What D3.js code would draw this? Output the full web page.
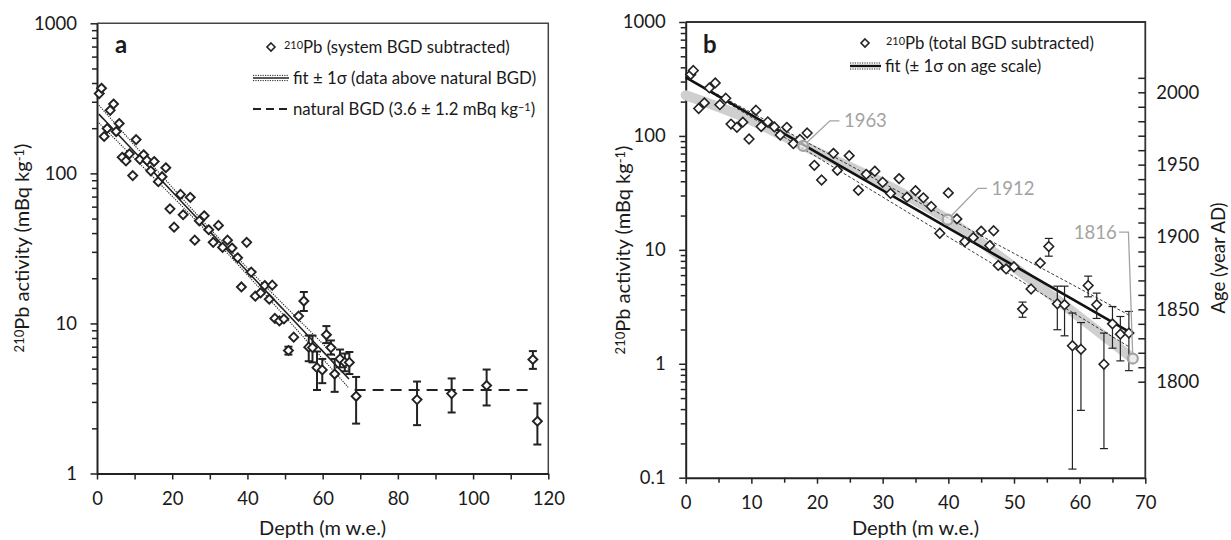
<!DOCTYPE html>
<html>
<head>
<meta charset="utf-8">
<script src="https://cdn.jsdelivr.net/npm/d3@7"></script>
<style>
body { margin: 0; background: #fff; }
text { font-family: Lato, "Open Sans", sans-serif; fill: #1a1a1a; }
</style>
</head>
<body>
<svg id="chart" width="1231" height="540"></svg>
<script>
// ---------- Panel a data (210Pb, system BGD subtracted) ----------
const depthA = [0.6, 1.2, 1.9, 2.7, 3.5, 4.4, 5.1, 5.9, 6.7, 7.7, 8.6, 9.5, 10.4, 11.4, 12.4, 13.3, 14.3, 15.2,
  16.3, 17.3, 18.3, 19.4, 20.5, 22.2, 22.9, 24.8, 26.0, 27.2, 28.5, 29.7, 30.9, 32.3, 33.4, 34.7, 35.9, 37.4,
  38.4, 39.8, 41.0, 42.1, 43.5, 44.6, 45.8, 46.6, 47.3, 48.5, 49.7, 50.9, 52.3, 53.6, 55.0, 56.3, 57.3, 58.5,
  59.9, 61.0, 62.2, 63.2, 64.6, 65.9, 67.1, 68.9, 85.1, 94.3, 103.6, 115.9, 117.1];
const activityA = [340, 369, 176, 199, 263, 290, 190, 215, 128, 121, 135, 96.6, 168, 124, 133, 122, 104, 120,
  88, 95, 109, 58, 43.8, 72.4, 53, 69.2, 35.9, 48.3, 52.2, 42.1, 34.7, 45, 32.1, 35.9, 31.8, 27.4,
  17.5, 34.7, 22, 15.2, 16, 17.9, 14.5, 18, 10.8, 10.4, 10.7, 6.6, 8.1, 11.2, 14.1, 6.95, 6.9, 5.07,
  4.9, 8.4, 6.9, 4.6, 5.8, 5.5, 5.5, 3.27, 3.11, 3.41, 3.86, 5.75, 2.23];
// error bar ends (null = smaller than the marker)
const errLowA = Array(47).fill(null).concat([6.2, null, null, 12.1, 5.6, 5.5, 3.6, 4.0, 7.4, 6.2, 3.5, 5.1, 4.8, 4.6,
  2.15, 2.1, 2.55, 2.84, 4.98, 1.56]);
const errHighA = Array(47).fill(null).concat([7.0, null, null, 16.2, 8.3, 8.3, 6.5, 5.8, 9.6, 7.7, 5.8, 6.7, 6.3, 6.45,
  4.4, 4.1, 4.3, 4.93, 6.54, 2.93]);

// exponential fit (log10 activity = log10(fitA0) + fitSlopeA * depth) and its 1 sigma band
const fitA0 = 256;
const fitSlopeA = -0.02655;
const fitDepthA = [0.5, 67.3];
const fitSigmaA = { s0: 0.02, slope: 0.0017, mid: 33 };
const bgdLevel = 3.6;
const bgdDepth = [68.5, 115.6];

// ---------- Panel b data (210Pb, total BGD subtracted) ----------
const depthB = [0.76, 1.16, 1.98, 2.84, 3.6, 4.5, 5.2, 6.1, 6.9, 7.8, 8.7, 9.65, 10.7, 11.5, 12.5, 13.5, 14.4, 15.4,
  16.4, 17.4, 18.5, 19.6, 20.7, 22.5, 23.1, 24.9, 26.3, 27.5, 28.8, 30.0, 31.2, 32.5, 33.7, 35.0, 36.2, 37.4,
  38.7, 40.0, 41.3, 42.5, 43.8, 45.0, 46.3, 46.9, 47.6, 48.8, 50.0, 51.3, 52.6, 54.0, 55.3, 56.6, 57.7, 58.9,
  60.2, 61.3, 62.6, 63.7, 65.0, 66.2, 67.5];
const activityB = [346, 375, 174, 195, 264, 292, 188, 214, 127, 119, 132, 94, 168, 121, 133, 120, 102, 119,
  85.5, 93, 106, 55.2, 41, 70.3, 49.9, 67.1, 33.3, 46, 49, 39.2, 31.3, 42.2, 29, 33.1, 28.6, 24,
  14, 31.6, 18.7, 11.8, 12.8, 14.6, 10.9, 14.7, 7.3, 6.8, 7.1, 3.02, 4.53, 7.66, 10.7, 3.36, 3.3, 1.44,
  1.34, 4.86, 3.3, 0.99, 2.24, 1.82, 1.86];
const errLowB = Array(47).fill(null).concat([2.56, null, null, 8.8, 1.99, 1.76, 0.119, 0.39, 3.87, 2.5, 0.18, 1.37, 1.06, 0.87]);
const errHighB = Array(47).fill(null).concat([3.48, null, null, 12.6, 4.8, 4.8, 2.79, 2.3, 5.88, 4.17, 1.86, 3.18, 2.6, 2.88]);

const fitB0 = 327;
const fitSlopeB = -0.03307;
const fitDepthB = [0, 67.5];
const sigmaUpB = 0.00216;   // decades per m, grows with depth (age)
const sigmaLowB = 0.00196;

// age model (gray band)
const ageBandDepth = [0, 8.3, 17.9, 28, 39.9, 55, 68.1];
const ageBandYear = [1998, 1984, 1963, 1942, 1912, 1862, 1816];
const markerYears = [1963, 1912, 1816];
const markerDepths = [17.9, 39.9, 68.1];

const svg = d3.select("#chart");
const FONT = "Lato, 'Open Sans', sans-serif";
const TICK_FS = 18.5, TITLE_FS = 20, LEG_FS = 16.8;

const diamond = r => `M0,${-r}L${r},0L0,${r}L${-r},0Z`;

function styleAxis(g, size) {
  g.attr("font-family", FONT).attr("font-size", size);
  g.selectAll("text").style("fill", "#1a1a1a");
  g.selectAll("line").attr("stroke", "#222").attr("stroke-width", 1.5);
  g.select(".domain").attr("stroke", "#222").attr("stroke-width", 2);
}

function minorLog(lo, hi) {
  const out = [];
  for (let e = lo; e < hi; e++) for (let m = 2; m <= 9; m++) out.push(m * Math.pow(10, e));
  return out;
}

// superscript helper for titles/legends
function richText(sel, parts, size) {
  parts.forEach(p => {
    const t = sel.append("tspan").text(p.t);
    if (p.sup) t.attr("font-size", size * 0.65).attr("baseline-shift", "38%");
  });
}

/////////////////////////////////////////////////////////
/////////////////////// Panel a /////////////////////////
/////////////////////////////////////////////////////////
const xA = d3.scaleLinear().domain([0, 120]).range([97, 548.3]);
const yA = d3.scaleLog().domain([1, 1000]).range([473.5, 23.3]);

const gA = svg.append("g");

// frame (top, right)
gA.append("path")
  .attr("d", `M${xA(0)},${yA(1000)}H${xA(120)}V${yA(1)}`)
  .attr("fill", "none").attr("stroke", "#444").attr("stroke-width", 1.5);

gA.append("g").attr("transform", `translate(${xA(0)},0)`)
  .call(d3.axisLeft(yA).tickValues(minorLog(0, 3)).tickFormat("").tickSize(5).tickSizeOuter(0))
  .call(g => { styleAxis(g, TICK_FS); g.select(".domain").remove(); });
gA.append("g").attr("transform", `translate(${xA(0)},0)`)
  .call(d3.axisLeft(yA).tickValues([1, 10, 100, 1000]).tickFormat(d3.format("d")).tickSize(6.5).tickSizeOuter(0).tickPadding(13.5))
  .call(g => styleAxis(g, TICK_FS));
gA.append("g").attr("transform", `translate(0,${yA(1)})`)
  .call(d3.axisBottom(xA).tickValues(d3.range(10, 120, 20)).tickFormat("").tickSize(6).tickSizeOuter(0))
  .call(g => { styleAxis(g, TICK_FS); g.select(".domain").remove(); });
gA.append("g").attr("transform", `translate(0,${yA(1)})`)
  .call(d3.axisBottom(xA).tickValues(d3.range(0, 121, 20)).tickSize(6).tickSizeOuter(0).tickPadding(12))
  .call(g => styleAxis(g, TICK_FS));

// fit and 1 sigma band
const lineA = d3.line().x(d => xA(d[0])).y(d => yA(d[1]));
const fitPtsA = (off) => d3.range(fitDepthA[0], fitDepthA[1] + 0.01, 0.5).map(d => {
  const s = Math.sqrt(fitSigmaA.s0 ** 2 + (fitSigmaA.slope * (d - fitSigmaA.mid)) ** 2);
  return [d, Math.pow(10, Math.log10(fitA0) + fitSlopeA * d + off * s)];
});
gA.append("path").attr("d", lineA(fitPtsA(1))).attr("fill", "none")
  .attr("stroke", "#222").attr("stroke-width", 1.1).attr("stroke-dasharray", "1.2,1.2");
gA.append("path").attr("d", lineA(fitPtsA(-1))).attr("fill", "none")
  .attr("stroke", "#222").attr("stroke-width", 1.1).attr("stroke-dasharray", "1.2,1.2");
gA.append("path").attr("d", lineA(fitPtsA(0))).attr("fill", "none")
  .attr("stroke", "#222").attr("stroke-width", 1.6);

// natural background
gA.append("line")
  .attr("x1", xA(bgdDepth[0])).attr("x2", xA(bgdDepth[1]))
  .attr("y1", yA(bgdLevel)).attr("y2", yA(bgdLevel))
  .attr("stroke", "#222").attr("stroke-width", 2.2).attr("stroke-dasharray", "11,7");

// error bars
const dataA = depthA.map((d, i) => ({ d, v: activityA[i], lo: errLowA[i], hi: errHighA[i] }));
const ebA = gA.append("g").attr("stroke", "#222").attr("stroke-width", 2);
dataA.filter(p => p.lo != null).forEach(p => {
  const x = xA(p.d);
  ebA.append("line").attr("x1", x).attr("x2", x).attr("y1", yA(p.lo)).attr("y2", yA(p.hi));
  ebA.append("line").attr("x1", x - 4).attr("x2", x + 4).attr("y1", yA(p.lo)).attr("y2", yA(p.lo));
  ebA.append("line").attr("x1", x - 4).attr("x2", x + 4).attr("y1", yA(p.hi)).attr("y2", yA(p.hi));
});

gA.selectAll(".ptA").data(dataA).enter().append("path")
  .attr("class", "ptA")
  .attr("d", diamond(4.5))
  .attr("transform", p => `translate(${xA(p.d)},${yA(p.v)})`)
  .attr("fill", "#fff").attr("stroke", "#222").attr("stroke-width", 1.9);

// panel letter
gA.append("text").attr("x", 115).attr("y", 53).attr("font-size", 24).attr("font-weight", "bold").text("a");

// legend a
const legA = gA.append("g");
legA.append("path").attr("d", diamond(4)).attr("transform", "translate(271,47)")
  .attr("fill", "#fff").attr("stroke", "#222").attr("stroke-width", 1.6);
richText(legA.append("text").attr("x", 284).attr("y", 47).attr("dy", "0.35em").attr("font-size", LEG_FS),
  [{ t: "210", sup: true }, { t: "Pb (system BGD subtracted)" }], LEG_FS);
[-2.6, 2.6].forEach(o => legA.append("line").attr("x1", 253).attr("x2", 289).attr("y1", 78 + o).attr("y2", 78 + o)
  .attr("stroke", "#222").attr("stroke-width", 1).attr("stroke-dasharray", "1.2,1.2"));
legA.append("line").attr("x1", 253).attr("x2", 289).attr("y1", 78).attr("y2", 78)
  .attr("stroke", "#222").attr("stroke-width", 1.6);
legA.append("text").attr("x", 293).attr("y", 78).attr("dy", "0.35em").attr("font-size", LEG_FS)
  .text("fit ± 1σ (data above natural BGD)");
legA.append("line").attr("x1", 253).attr("x2", 289).attr("y1", 109).attr("y2", 109)
  .attr("stroke", "#222").attr("stroke-width", 2.2).attr("stroke-dasharray", "8,5");
richText(legA.append("text").attr("x", 293).attr("y", 109).attr("dy", "0.35em").attr("font-size", LEG_FS),
  [{ t: "natural BGD (3.6 ± 1.2 mBq kg" }, { t: "−1", sup: true }, { t: ")" }], LEG_FS);

// axis titles a
richText(gA.append("text").attr("transform", "translate(29,248) rotate(-90)").attr("text-anchor", "middle").attr("font-size", TITLE_FS),
  [{ t: "210", sup: true }, { t: "Pb activity (mBq kg" }, { t: "-1", sup: true }, { t: ")" }], TITLE_FS);
gA.append("text").attr("x", (xA(0) + xA(120)) / 2).attr("y", 528).attr("dy", "0.35em")
  .attr("text-anchor", "middle").attr("font-size", TITLE_FS).text("Depth (m w.e.)");

/////////////////////////////////////////////////////////
/////////////////////// Panel b /////////////////////////
/////////////////////////////////////////////////////////
const xB = d3.scaleLinear().domain([0, 70]).range([685.7, 1145.3]);
const yB = d3.scaleLog().domain([0.1, 1000]).range([477.7, 22]);
const ageB = d3.scaleLinear().domain([1800, 2000]).range([381.7, 92.3]);

const gB = svg.append("g");

gB.append("path")
  .attr("d", `M${xB(0)},${yB(1000)}H${xB(70)}V${yB(0.1)}`)
  .attr("fill", "none").attr("stroke", "#333").attr("stroke-width", 1.8);

gB.append("g").attr("transform", `translate(${xB(0)},0)`)
  .call(d3.axisLeft(yB).tickValues(minorLog(-1, 3)).tickFormat("").tickSize(5).tickSizeOuter(0))
  .call(g => { styleAxis(g, TICK_FS); g.select(".domain").remove(); });
gB.append("g").attr("transform", `translate(${xB(0)},0)`)
  .call(d3.axisLeft(yB).tickValues([0.1, 1, 10, 100, 1000]).tickFormat(d => d < 1 ? "0.1" : d3.format("d")(d))
    .tickSize(6.5).tickSizeOuter(0).tickPadding(13.5))
  .call(g => styleAxis(g, TICK_FS));
gB.append("g").attr("transform", `translate(0,${yB(0.1)})`)
  .call(d3.axisBottom(xB).tickValues(d3.range(5, 70, 10)).tickFormat("").tickSize(5).tickSizeOuter(0))
  .call(g => { styleAxis(g, TICK_FS); g.select(".domain").remove(); });
gB.append("g").attr("transform", `translate(0,${yB(0.1)})`)
  .call(d3.axisBottom(xB).tickValues(d3.range(0, 71, 10)).tickSize(6).tickSizeOuter(0).tickPadding(12))
  .call(g => styleAxis(g, TICK_FS));
// age axis, ticks pointing inward
gB.append("g").attr("transform", `translate(${xB(70)},0)`)
  .call(d3.axisRight(ageB).tickValues(d3.range(1800, 2011, 10)).tickFormat(d => d % 50 === 0 ? d : "")
    .tickSizeInner(-7).tickSizeOuter(0).tickPadding(11))
  .call(g => { styleAxis(g, TICK_FS); g.select(".domain").remove(); });

// gray age-model band
const bandLine = d3.line().curve(d3.curveMonotoneX).x(d => xB(d[0])).y(d => ageB(d[1]));
gB.append("path").attr("d", bandLine(ageBandDepth.map((d, i) => [d, ageBandYear[i]])))
  .attr("fill", "none").attr("stroke", "#cfcfcf").attr("stroke-width", 10).attr("stroke-linecap", "round");

// fit with +/- 1 sigma on age scale
const lineB = d3.line().x(d => xB(d[0])).y(d => yB(d[1]));
const fitValB = (d, off) => Math.pow(10, Math.log10(fitB0) + fitSlopeB * d + off * d);
gB.append("path").attr("d", lineB(fitDepthB.map(d => [d, fitValB(d, sigmaUpB)])))
  .attr("fill", "none").attr("stroke", "#222").attr("stroke-width", 0.9).attr("stroke-dasharray", "3,2");
gB.append("path").attr("d", lineB(fitDepthB.map(d => [d, fitValB(d, -sigmaLowB)])))
  .attr("fill", "none").attr("stroke", "#222").attr("stroke-width", 0.9).attr("stroke-dasharray", "3,2");
gB.append("path").attr("d", lineB(fitDepthB.map(d => [d, fitValB(d, 0)])))
  .attr("fill", "none").attr("stroke", "#111").attr("stroke-width", 2.6);

// error bars b
const dataB = depthB.map((d, i) => ({ d, v: activityB[i], lo: errLowB[i], hi: errHighB[i] }));
const ebB = gB.append("g").attr("stroke", "#222").attr("stroke-width", 1.2);
dataB.filter(p => p.lo != null).forEach(p => {
  const x = xB(p.d);
  ebB.append("line").attr("x1", x).attr("x2", x).attr("y1", yB(p.lo)).attr("y2", yB(p.hi));
  ebB.append("line").attr("x1", x - 4).attr("x2", x + 4).attr("y1", yB(p.lo)).attr("y2", yB(p.lo));
  ebB.append("line").attr("x1", x - 4).attr("x2", x + 4).attr("y1", yB(p.hi)).attr("y2", yB(p.hi));
});

gB.selectAll(".ptB").data(dataB).enter().append("path")
  .attr("class", "ptB")
  .attr("d", diamond(4.8))
  .attr("transform", p => `translate(${xB(p.d)},${yB(p.v)})`)
  .attr("fill", "#fff").attr("stroke", "#222").attr("stroke-width", 1.6);

// year markers with leader lines
const GRAY = "#a3a3a3";
const leaders = [
  { dx: 26.7, dy: -25, h: 9.5, anchor: "start" },
  { dx: 30.3, dy: -31.3, h: 9, anchor: "start" },
  { dx: -4.4, dy: -126.5, h: -9.3, anchor: "end" }
];
markerYears.forEach((yr, i) => {
  const cx = xB(markerDepths[i]), cy = ageB(yr), L = leaders[i];
  const ex = cx + L.dx, ey = cy + L.dy;
  const ang = Math.atan2(L.dy, L.dx);
  gB.append("path")
    .attr("d", `M${cx + 5 * Math.cos(ang)},${cy + 5 * Math.sin(ang)}L${ex},${ey}h${L.h}`)
    .attr("fill", "none").attr("stroke", GRAY).attr("stroke-width", 1.3);
  gB.append("circle").attr("cx", cx).attr("cy", cy).attr("r", 5)
    .attr("fill", "#fff").attr("fill-opacity", 0.6).attr("stroke", GRAY).attr("stroke-width", 2.2);
  gB.append("text").attr("x", ex + L.h + (L.h > 0 ? 4.5 : -2.5)).attr("y", ey).attr("dy", "0.35em")
    .attr("text-anchor", L.anchor).attr("font-size", TICK_FS).style("fill", GRAY).text(yr);
});

gB.append("text").attr("x", 703).attr("y", 53).attr("font-size", 24).attr("font-weight", "bold").text("b");

// legend b
const legB = gB.append("g");
legB.append("path").attr("d", diamond(4)).attr("transform", "translate(865,43)")
  .attr("fill", "#fff").attr("stroke", "#222").attr("stroke-width", 1.6);
richText(legB.append("text").attr("x", 886).attr("y", 43).attr("dy", "0.35em").attr("font-size", LEG_FS),
  [{ t: "210", sup: true }, { t: "Pb (total BGD subtracted)" }], LEG_FS);
[-3, 3].forEach(o => legB.append("line").attr("x1", 850).attr("x2", 881).attr("y1", 66 + o).attr("y2", 66 + o)
  .attr("stroke", "#222").attr("stroke-width", 1).attr("stroke-dasharray", "1.2,1.2"));
legB.append("line").attr("x1", 850).attr("x2", 881).attr("y1", 66).attr("y2", 66)
  .attr("stroke", "#111").attr("stroke-width", 2.4);
legB.append("text").attr("x", 885).attr("y", 66).attr("dy", "0.35em").attr("font-size", LEG_FS)
  .text("fit (± 1σ on age scale)");

// axis titles b
richText(gB.append("text").attr("transform", "translate(630,250) rotate(-90)").attr("text-anchor", "middle").attr("font-size", TITLE_FS),
  [{ t: "210", sup: true }, { t: "Pb activity (mBq kg" }, { t: "-1", sup: true }, { t: ")" }], TITLE_FS);
gB.append("text").attr("x", (xB(0) + xB(70)) / 2).attr("y", 528).attr("dy", "0.35em")
  .attr("text-anchor", "middle").attr("font-size", TITLE_FS).text("Depth (m w.e.)");
gB.append("text").attr("transform", "translate(1225,258) rotate(-90)").attr("text-anchor", "middle")
  .attr("font-size", 18.5).text("Age (year AD)");
</script>
</body>
</html>
